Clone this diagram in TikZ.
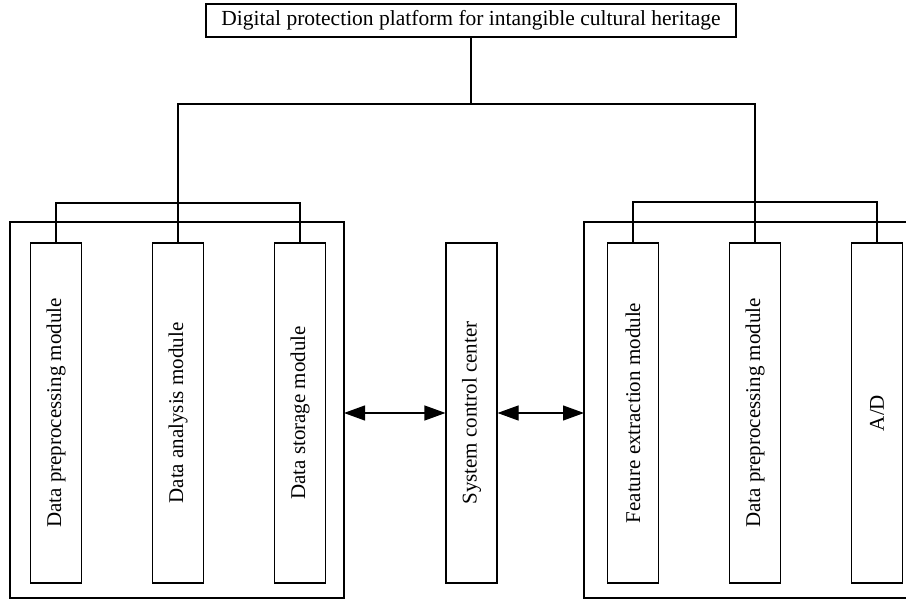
\documentclass[tikz,border=0pt]{standalone}
\usepackage{fontspec}
\setmainfont{Liberation Serif}
\usetikzlibrary{arrows.meta}
\begin{document}
\begin{tikzpicture}[x=1pt,y=-1pt,
  line width=1.1pt,
  every node/.style={font=\fontsize{21}{24}\selectfont},
  topbox/.style={draw, minimum width=530pt, minimum height=33pt, inner sep=0pt},
  modbox/.style={draw, rotate=90, minimum width=340pt, minimum height=51pt, inner sep=0pt},
  biarrow/.style={arrows={Triangle[length=21pt,width=15pt]-Triangle[length=21pt,width=15pt]}, line width=1.1pt}
]
\useasboundingbox (0,0) rectangle (906,601);
\clip (0,0) rectangle (906,601);

% top node
\node[topbox] (top) at (471,20.5) {\fontsize{21.5}{24}\selectfont Digital protection platform for intangible cultural heritage};

% left group
\draw (10,222) rectangle (344,598);
\node[modbox] (la1) at (56,413) {Data preprocessing module};
\node[modbox] (la2) at (178,413) {Data analysis module};
\node[modbox] (la3) at (300,413) {Data storage module};

% center
\node[modbox] (cc) at (471.5,413) {System control center};

% right group
\draw (912,222) -- (584,222) -- (584,598) -- (912,598);
\node[modbox] (ra1) at (633,413) {Feature extraction module};
\node[modbox] (ra2) at (755,413) {Data preprocessing module};
\node[modbox] (ra3) at (877,413) {A/D};

\coordinate (leftbox) at (344,413);
\coordinate (rightbox) at (584,413);

% main tree
\coordinate (bus) at (471,104);
\draw (top.south) -- (top.south |- bus);
\draw (la2.east) -- (la2.east |- bus) -- (ra2.east |- bus) -- (ra2.east);

% sub buses
\coordinate (lbus) at (0,203);
\coordinate (rbus) at (0,202);
\draw (la1.east) -- (la1.east |- lbus) -- (la3.east |- lbus) -- (la3.east);
\draw (ra1.east) -- (ra1.east |- rbus) -- (ra3.east |- rbus) -- (ra3.east);

% arrows (rotated node: north anchor is on the left, south on the right)
\draw[biarrow] (leftbox) -- (cc.north);
\draw[biarrow] (cc.south) -- (rightbox);
\end{tikzpicture}
\end{document}
